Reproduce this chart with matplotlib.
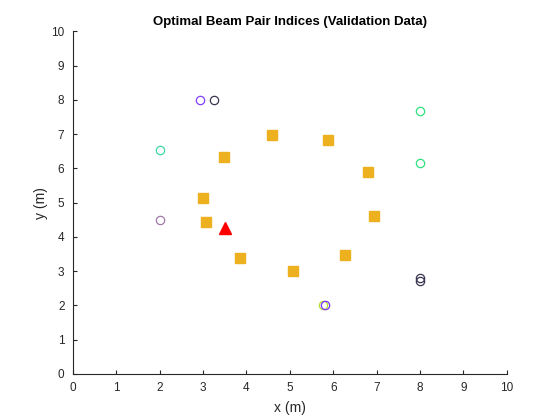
import matplotlib.pyplot as plt

plt.rcParams['font.family'] = ['Liberation Sans', 'DejaVu Sans']

# validation positions (orange squares)
sq_x = [4.6, 5.88, 3.48, 6.8, 3.0, 3.07, 6.94, 3.85, 5.07, 6.27]
sq_y = [6.97, 6.83, 6.33, 5.9, 5.13, 4.43, 4.6, 3.38, 3.0, 3.47]

# base station (red triangle)
bs_x = [3.5]
bs_y = [4.26]

# optimal beam pair markers (circles), coloured by index
c_x = [2.93, 3.25, 2.0, 8.0, 8.0, 2.0, 5.77, 5.82, 8.0, 8.0]
c_y = [8.0, 8.0, 6.54, 7.67, 6.15, 4.48, 2.0, 2.0, 2.8, 2.72]
c_col = ['#8040FF', '#3A3550', '#40D8A0', '#30E080', '#30E080',
         '#A07AA8', '#B8E030', '#7A30FF', '#3A3550', '#3A3550']

fig = plt.figure(figsize=(5.6, 4.2), dpi=100)
ax = fig.add_axes([0.13, 0.11, 0.775, 0.815])

for x, y, c in zip(c_x, c_y, c_col):
    ax.plot(x, y, 'o', markerfacecolor='none', markeredgecolor=c,
            markersize=6, markeredgewidth=0.9)

ax.plot(sq_x, sq_y, 's', color='#EDB120', markersize=7, linestyle='none')
ax.plot(bs_x, bs_y, '^', color='red', markersize=9, linestyle='none')

ax.set_xlim(0, 10)
ax.set_ylim(0, 10)
ax.set_xticks(range(0, 11))
ax.set_yticks(range(0, 11))
ax.tick_params(direction='in', length=3, labelsize=8.5, colors='#262626')
ax.tick_params(axis='x', pad=6)
ax.tick_params(axis='y', pad=6)
for s in ['top', 'right']:
    ax.spines[s].set_visible(False)
for s in ['left', 'bottom']:
    ax.spines[s].set_color('#262626')
    ax.spines[s].set_linewidth(0.8)

ax.set_xlabel('x (m)', fontsize=10, color='#262626', labelpad=5)
ax.set_ylabel('y (m)', fontsize=10, color='#262626', labelpad=2)
ax.set_title('Optimal Beam Pair Indices (Validation Data)', fontsize=9.5,
             fontweight='bold', pad=5)

plt.savefig('out.png', dpi=100)
